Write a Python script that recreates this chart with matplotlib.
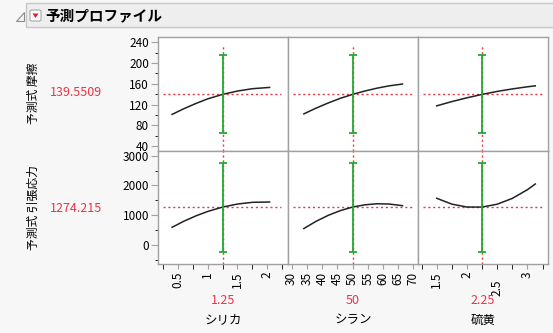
import numpy as np
import matplotlib.pyplot as plt
from matplotlib.patches import Rectangle, Polygon, FancyBboxPatch

plt.rcParams['font.family'] = ['Noto Sans CJK JP', 'DejaVu Sans']

# 因子と応答
factors = ['シリカ', 'シラン', '硫黄']
factor_current = [1.25, 50, 2.25]
factor_current_text = ['1.25', '50', '2.25']
responses = ['予測式 摩擦', '予測式 引張応力']
response_current = [139.5509, 1274.215]
response_current_text = ['139.5509', '1274.215']
response_ci = [(65, 215), (-225, 2745)]

# プロファイル曲線
silica_x = [0.4, 0.6, 0.8, 1.0, 1.25, 1.5, 1.75, 2.04]
silica_friction = [101, 112, 122, 131, 139.55, 146, 150.5, 153]
silica_tensile = [595, 801, 978, 1128, 1274, 1376, 1434, 1445]
silane_x = [34, 38, 42, 46, 50, 54, 58, 62, 66.4]
silane_friction = [102, 113, 123, 132, 139.55, 146, 151.5, 156, 159.5]
silane_tensile = [552, 795, 996, 1156, 1274, 1350, 1385, 1377, 1321]
sulfur_x = [1.5, 1.75, 2.0, 2.25, 2.5, 2.75, 3.0, 3.13]
sulfur_friction = [117.5, 125.7, 133, 139.55, 145.3, 150.1, 154.2, 156]
sulfur_tensile = [1569, 1373, 1275, 1274, 1371, 1566, 1859, 2050]

curves_x = [silica_x, silane_x, sulfur_x]
curves_y = [[silica_friction, silane_friction, sulfur_friction],
            [silica_tensile, silane_tensile, sulfur_tensile]]

W, H = 553, 333
fig = plt.figure(figsize=(W / 100, H / 100), dpi=100, facecolor='#f7f7f7')


def fx(x):
    return x / W


def fy(y):
    return 1 - y / H


# ヘッダー
fig.patches.append(Rectangle((fx(26), fy(27)), fx(W), 24 / H, transform=fig.transFigure,
                             fc='#eeeeee', ec='#c8c8c8', lw=1))
fig.patches.append(Polygon([(fx(16), fy(21)), (fx(24), fy(21)), (fx(24), fy(12))],
                           closed=True, transform=fig.transFigure, fc='#f4f4f4', ec='#8a8a8a', lw=0.8))
fig.patches.append(FancyBboxPatch((fx(30), fy(21)), 11 / W, 11 / H, boxstyle='round,pad=0,rounding_size=0.004',
                                  transform=fig.transFigure, fc='#fbfbfb', ec='#a8a8a8', lw=0.8))
fig.patches.append(Polygon([(fx(32.5), fy(13.5)), (fx(38.5), fy(13.5)), (fx(35.5), fy(18))],
                           closed=True, transform=fig.transFigure, fc='#e02030', ec='none'))
fig.text(fx(45), fy(15.5), '予測プロファイル', fontsize=10.5, fontweight='bold', va='center', ha='left')

col_left = [158, 288, 418]
col_w = 130
row_top = [37, 151]
row_h = [114, 113]
xlims = [(0.163, 2.35), (28.8, 71.5), (1.19, 3.34)]
ylims = [(30.4, 250.2), (-638, 3158)]
x_major = [[0.5, 1, 1.5, 2], list(range(30, 75, 5)), [1.5, 2, 3]]
x_minor = [[0.25, 0.75, 1.25, 1.75, 2.25], [], [1.25, 1.75, 2.25, 2.5, 2.75, 3.25]]
x_minor_labels = [[''] * 5, [], ['', '', '', '2.5', '', '']]
y_major = [list(range(40, 241, 40)), [0, 1000, 2000, 3000]]
y_minor = [list(range(40, 241, 20)), list(range(-500, 3001, 500))]

red = '#ee3344'
green = '#22aa33'
frame = '#a0a0a0'

for r in range(2):
    for c in range(3):
        ax = fig.add_axes([fx(col_left[c]), fy(row_top[r] + row_h[r]), col_w / W, row_h[r] / H])
        ax.set_facecolor('white')
        ax.axhline(response_current[r], xmin=0.04, xmax=0.95, color=red, lw=1, ls=(0, (1.5, 2)), zorder=1)
        ax.axvline(factor_current[c], ymin=0, ymax=0.93 if r == 0 else 1, color=red, lw=1,
                   ls=(0, (1.5, 2)), zorder=1)
        ax.plot(curves_x[c], curves_y[r][c], color='#222222', lw=1.1, zorder=2)
        lo, hi = response_ci[r]
        ax.errorbar([factor_current[c]], [response_current[r]],
                    yerr=[[response_current[r] - lo], [hi - response_current[r]]],
                    fmt='none', ecolor=green, elinewidth=1.3, capsize=3, capthick=1.3, zorder=3)
        ax.set_xlim(*xlims[c])
        ax.set_ylim(*ylims[r])
        for s in ax.spines.values():
            s.set_color(frame)
            s.set_linewidth(1)
        ax.tick_params(colors=frame, labelcolor='black', labelsize=8.5)
        if c == 0:
            ax.set_yticks(y_major[r], [str(v) for v in y_major[r]])
            ax.set_yticks(y_minor[r], minor=True)
            ax.tick_params(axis='y', which='major', length=5, pad=1.5)
            ax.tick_params(axis='y', which='minor', length=2.5)
        else:
            ax.set_yticks([])
            ax.set_yticks([], minor=True)
        if r == 1:
            ax.set_xticks(x_major[c], [f'{v:g}' for v in x_major[c]])
            ax.set_xticks(x_minor[c], x_minor_labels[c], minor=True)
            ax.tick_params(axis='x', which='both', length=3.5, labelrotation=90, labelsize=8.5)
            ax.tick_params(axis='x', which='major', pad=2)
            ax.tick_params(axis='x', which='minor', pad=8)
        else:
            ax.set_xticks([])
            ax.set_xticks([], minor=True)

# 因子ラベルと現在値
for c in range(3):
    xc = fx(col_left[c] + col_w / 2)
    fig.text(xc, fy(301), factor_current_text[c], color=red, fontsize=9, ha='center', va='center')
    fig.text(xc, fy(320), factors[c], fontsize=9, ha='center', va='center')

# 応答ラベルと現在値
resp_y = [93, 208]
for r in range(2):
    fig.text(fx(33), fy(resp_y[r]), responses[r], rotation=90, fontsize=8.5, ha='center', va='center')
    fig.text(fx(76), fy(resp_y[r]), response_current_text[r], color=red, fontsize=9, ha='center', va='center')

fig.savefig('out.png', dpi=100, facecolor=fig.get_facecolor())
